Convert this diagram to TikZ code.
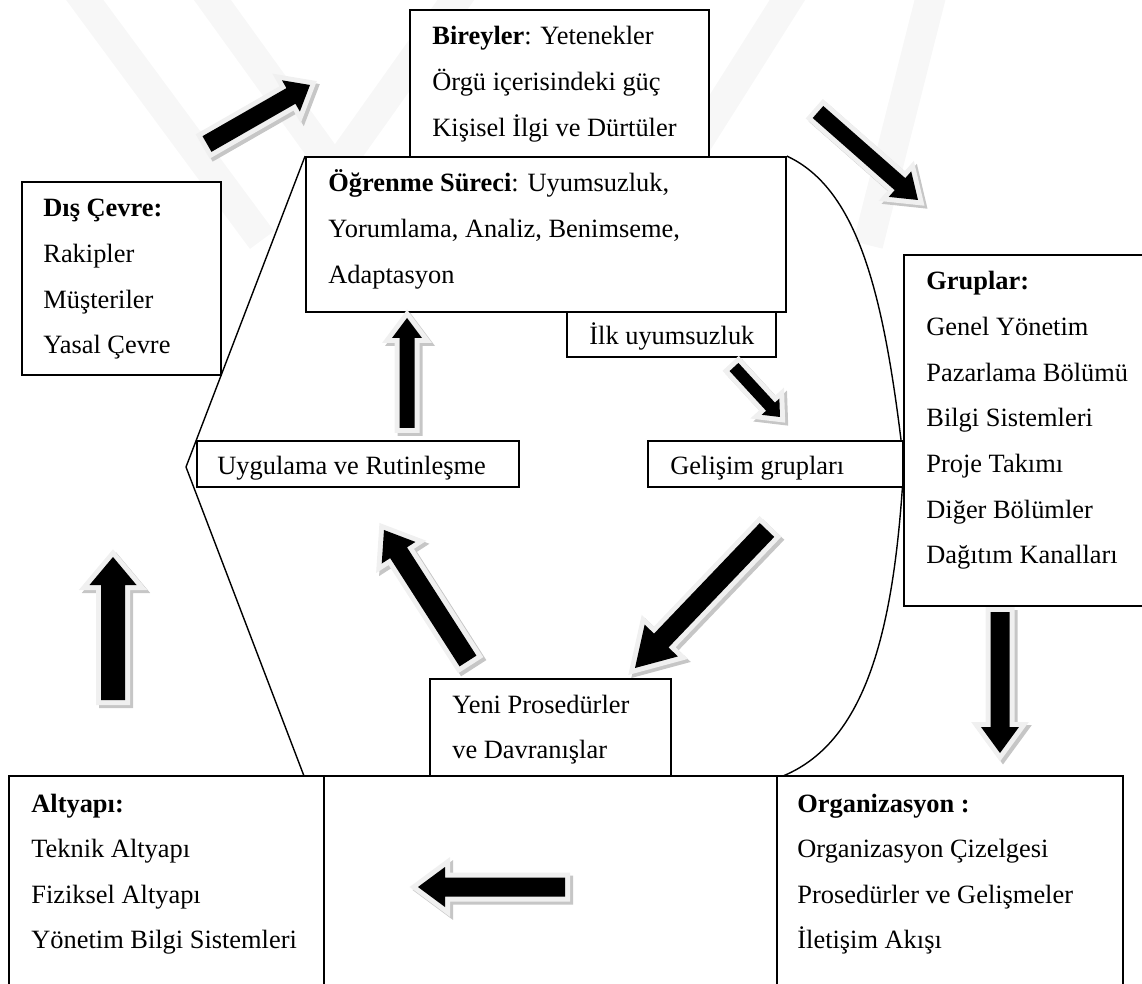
\documentclass[tikz,border=0pt]{standalone}
\usepackage{fontspec}
\setmainfont{Liberation Serif}
\usetikzlibrary{calc,fit,backgrounds}

\tikzset{
  box/.style={draw, line width=0.9pt, fill=white, inner sep=0pt},
  txt/.style={anchor=base west, inner sep=0pt, font=\fontsize{13.2pt}{23pt}\selectfont},
  hexline/.style={line width=0.7pt},
  wm/.style={draw=gray!6, line width=15pt},
  % block arrow between two points: half shaft, half head, head length
  blk/.style n args={3}{to path={
    let \p1=($(\tikztotarget)-(\tikztostart)$), \n1={atan2(\y1,\x1)} in
    ($(\tikztostart)+(\n1+90:#1)$)
    -- ($(\tikztotarget)+(\n1:-#3)+(\n1+90:#1)$)
    -- ($(\tikztotarget)+(\n1:-#3)+(\n1+90:#2)$)
    -- (\tikztotarget)
    -- ($(\tikztotarget)+(\n1:-#3)+(\n1-90:#2)$)
    -- ($(\tikztotarget)+(\n1:-#3)+(\n1-90:#1)$)
    -- ($(\tikztostart)+(\n1-90:#1)$) -- cycle}},
  arrshadow/.style={draw=gray!45, fill=gray!45, line width=5pt, line join=miter},
  arrhalo/.style={draw=gray!12, fill=gray!12, line width=5pt, line join=miter},
  arrcore/.style={fill=black}
}

\newcommand{\shadarrow}[5]{%
  \begin{scope}[transform canvas={shift={(1.5pt,-1.5pt)}}]
    \path[arrshadow] (#1) to[blk={#3}{#4}{#5}] (#2);
  \end{scope}
  \path[arrhalo] (#1) to[blk={#3}{#4}{#5}] (#2);
  \path[arrcore] (#1) to[blk={#3}{#4}{#5}] (#2);
}

\newcommand{\boxlines}[4]{%
  \foreach \t [count=\i] in {#4}
    \node[txt] (#1T\i) at (#2,{#3+45.6*(\i-1)}) {\t};
}

\begin{document}
\begin{tikzpicture}[x=0.5pt, y=-0.5pt]
\useasboundingbox (0,0) rectangle (1142,984);

% boxes
\node[box, fit={(410,10) (709,157)}] (bireyler) {};
\node[box, fit={(306,157) (786,312)}] (ogrenme) {};
\node[box, fit={(567,312) (776,357)}] (ilk) {};
\node[box, fit={(197,441) (519,487)}] (uygulama) {};
\node[box, fit={(648,441) (903,487)}] (gelisim) {};
\node[box, fit={(430,679) (671,776)}] (yeni) {};
\node[box, fit={(22,182) (221,375)}] (disCevre) {};
\node[box, fit={(904,255) (1170,606)}] (gruplar) {};
\node[box, fit={(9,776) (324,1010)}] (altyapi) {};
\node[box, fit={(324,776) (777,1010)}] (orta) {};
\node[box, fit={(777,776) (1123,1010)}] (organizasyon) {};

\coordinate (hexL) at (186,467);
\coordinate (hexBL) at (304,776);
\coordinate (hexBR) at (783,776);

\begin{scope}[on background layer]
  % watermark
  \draw[wm] (70,-20) -- (262,240);
  \draw[wm] (198,-20) -- (335,170) -- (470,-20);
  \draw[wm] (800,-20) -- (680,170);
  \draw[wm] (935,-20) -- (868,245);
  % outline
  \draw[hexline] (ogrenme.north west) -- (hexL) -- (hexBL);
  \draw[hexline] (ogrenme.north east) .. controls (860,190) and (885,300) .. (gelisim.east)
    .. controls (895,620) and (870,740) .. (hexBR);
\end{scope}

% arrows
\coordinate (dc2bS) at (207,144);   \coordinate (dc2bE) at (310,85);
\coordinate (b2gS) at (818,112);    \coordinate (b2gE) at (918,200);
\coordinate (ilk2gS) at (734,367);  \coordinate (ilk2gE) at (780,417);
\coordinate (uyg2oS) at (407,428);  \coordinate (uyg2oE) at (407,318);
\coordinate (gel2yS) at (767,530);  \coordinate (gel2yE) at (635,668);
\coordinate (gru2oS) at (1000,612); \coordinate (gru2oE) at (1000,753);
\coordinate (yeni2uS) at (468,661); \coordinate (yeni2uE) at (384,530);
\coordinate (org2aS) at (565,887);  \coordinate (org2aE) at (418,887);
\coordinate (alt2dS) at (113,700);  \coordinate (alt2dE) at (113,557);

\shadarrow{dc2bS}{dc2bE}{4.5pt}{9pt}{11pt}
\shadarrow{b2gS}{b2gE}{4pt}{8.5pt}{12pt}
\shadarrow{ilk2gS}{ilk2gE}{3pt}{6pt}{7pt}
\shadarrow{uyg2oS}{uyg2oE}{3.75pt}{7.5pt}{10pt}
\shadarrow{gel2yS}{gel2yE}{5pt}{11.5pt}{19pt}
\shadarrow{gru2oS}{gru2oE}{4.75pt}{9.5pt}{13pt}
\shadarrow{yeni2uS}{yeni2uE}{5pt}{10pt}{13.5pt}
\shadarrow{org2aS}{org2aE}{4.75pt}{10pt}{13.5pt}
\shadarrow{alt2dS}{alt2dE}{6pt}{11.75pt}{14pt}

% texts
\boxlines{bireyler}{432}{45}{{\textbf{Bireyler}: Yetenekler}, Örgü içerisindeki güç, Kişisel İlgi ve Dürtüler}
\boxlines{ogrenme}{328}{192}{{\textbf{Öğrenme Süreci}: Uyumsuzluk,}, {Yorumlama, Analiz, Benimseme,}, Adaptasyon}
\boxlines{ilk}{589}{345}{İlk uyumsuzluk}
\boxlines{uygulama}{217}{475}{Uygulama ve Rutinleşme}
\boxlines{gelisim}{670}{475}{Gelişim grupları}
\boxlines{yeni}{452}{713}{Yeni Prosedürler, ve Davranışlar}
\boxlines{disCevre}{43}{217}{\textbf{Dış Çevre:}, Rakipler, Müşteriler, Yasal Çevre}
\boxlines{gruplar}{926}{290}{\textbf{Gruplar:}, Genel Yönetim, Pazarlama Bölümü, Bilgi Sistemleri, Proje Takımı, Diğer Bölümler, Dağıtım Kanalları}
\boxlines{altyapi}{31}{812}{\textbf{Altyapı:}, Teknik Altyapı, Fiziksel Altyapı, Yönetim Bilgi Sistemleri}
\boxlines{organizasyon}{797}{812}{\textbf{Organizasyon :}, Organizasyon Çizelgesi, Prosedürler ve Gelişmeler, İletişim Akışı}
\end{tikzpicture}
\end{document}
